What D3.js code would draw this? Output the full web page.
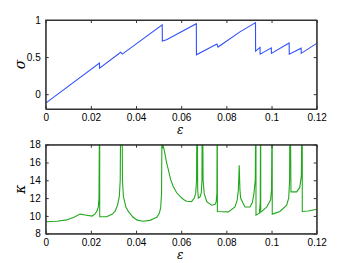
<!DOCTYPE html>
<html>
<head>
<meta charset="utf-8">
<script src="https://cdn.jsdelivr.net/npm/d3@7"></script>
<style>
body { margin: 0; background: #fff; }
text { font-family: "Liberation Sans", Arial, sans-serif; font-size: 10px; fill: #000; }
.lbl { font-family: "DejaVu Serif", "Liberation Serif", serif; font-style: italic; font-size: 14px; }
.xl { font-size: 12px; }
</style>
</head>
<body>
<script>
var width = 349;
var height = 263;

// x ticks shared by both panels
var xTicks = [0, 0.02, 0.04, 0.06, 0.08, 0.1, 0.12];
var sigmaTicks = [0, 0.5, 1];
var kappaTicks = [8, 10, 12, 14, 16, 18];

// sigma vs strain
var sigmaEps = [0, 0.0238, 0.02385, 0.0332, 0.0339, 0.0516, 0.05165, 0.0535, 0.0667, 0.06675,
    0.0758, 0.0763, 0.0860, 0.0929, 0.09295, 0.0949, 0.09495, 0.0999, 0.09995, 0.1078, 0.10785,
    0.1131, 0.11315, 0.12];
var sigmaVal = [-0.12, 0.42, 0.35, 0.565, 0.54, 0.935, 0.716, 0.735, 0.95, 0.53,
    0.675, 0.635, 0.84, 0.965, 0.58, 0.63, 0.54, 0.625, 0.55, 0.69, 0.54,
    0.62, 0.55, 0.685];

// kappa vs strain, poles go off the top and are clipped
var kappaEps = [0, 0.005, 0.0093, 0.0125, 0.0152, 0.0175, 0.0205, 0.0218, 0.0228, 0.0233, 0.0236,
    0.0239, 0.02392, 0.0270, 0.0295, 0.0307, 0.0318, 0.0326, 0.0330, 0.0333, 0.0337, 0.0340, 0.0344,
    0.0355, 0.0366, 0.0385, 0.0403, 0.0430, 0.0462, 0.0480, 0.0492, 0.0503, 0.0509, 0.0513, 0.0516,
    0.05175, 0.0521, 0.0528, 0.0535, 0.0543, 0.0553, 0.0565, 0.0580, 0.0595, 0.0610, 0.0624, 0.0646,
    0.0658, 0.0664, 0.0668, 0.0670,
    0.0671, 0.0673, 0.0676, 0.0683, 0.0689, 0.0692, 0.0693, 0.0694, 0.0697, 0.0702, 0.0713, 0.0735,
    0.0750, 0.0755, 0.0758, 0.0760, 0.07602, 0.0809, 0.0838, 0.0848, 0.0853, 0.0857, 0.0860, 0.0863,
    0.0882, 0.0905, 0.0915, 0.0922, 0.0928, 0.0931, 0.09312, 0.0946, 0.0950, 0.0952, 0.09522, 0.0979,
    0.0996, 0.1000, 0.1003, 0.10032, 0.1037, 0.1067, 0.1076, 0.1080, 0.1082, 0.10825, 0.1086, 0.1111,
    0.1125, 0.1132, 0.1136, 0.11362, 0.1163, 0.12];
var kappaVal = [9.35, 9.4, 9.55, 9.85, 10.2, 10.1, 9.98, 10.2, 10.6, 11.0, 12.0,
    25, 9.9, 9.9, 10.2, 10.5, 11.2, 12.2, 14, 25, 25, 14, 12.2,
    11.0, 10.5, 9.9, 9.55, 9.4, 9.5, 9.7, 9.85, 10.3, 10.9, 12.5, 25,
    17.6, 17.8, 17.0, 16.0, 15.2, 14.1, 13.3, 12.6, 12.2, 11.85, 11.65, 11.6,
    12.0, 12.5, 14, 25,
    25, 13, 12.0, 12.1, 12.6, 14, 25, 25, 14, 12.5, 11.6, 11.2,
    11.3, 11.6, 12.5, 25, 10.5, 10.45, 11.0, 11.8, 12.9, 15.7, 13, 12.0,
    11.0, 11.0, 11.5, 12.5, 14, 25, 10.1, 10.3, 11.5, 25, 10.4, 11.0,
    11.8, 13, 25, 10.2, 10.5, 11.2, 12, 14, 25, 25, 12.7, 12.7,
    13.2, 14.5, 25, 10.5, 10.55, 10.75];

var left = 45.7, right = 316.7;

var svg = d3.select("body").append("svg")
    .attr("width", width)
    .attr("height", height);

var x = d3.scaleLinear().domain([0, 0.12]).range([left, right]);

function drawPanel(name, top, bottom, yDomain, yTicks, yFmt, xs, ys, color, label) {
    var y = d3.scaleLinear().domain(yDomain).range([bottom, top]);

    svg.append("clipPath").attr("id", "clip-" + name)
        .append("rect")
        .attr("x", left).attr("y", top)
        .attr("width", right - left).attr("height", bottom - top);

    var line = d3.line()
        .x(function(d) { return x(d[0]); })
        .y(function(d) { return y(d[1]); });

    svg.append("path")
        .datum(xs.map(function(e, i) { return [e, ys[i]]; }))
        .attr("clip-path", "url(#clip-" + name + ")")
        .attr("fill", "none")
        .attr("stroke", color)
        .attr("stroke-width", 1.1)
        .attr("d", line);

    // MATLAB style box with inward ticks on all four sides
    var tk = 3;
    svg.append("g").attr("transform", "translate(0," + bottom + ")")
        .call(d3.axisBottom(x).tickValues(xTicks).tickSizeInner(-tk).tickSizeOuter(0).tickPadding(5)
            .tickFormat(function(d) { return d3.format("~g")(d); }));
    svg.append("g").attr("transform", "translate(0," + top + ")")
        .call(d3.axisTop(x).tickValues(xTicks).tickSizeInner(-tk).tickSizeOuter(0).tickFormat(""));
    svg.append("g").attr("transform", "translate(" + left + ",0)")
        .call(d3.axisLeft(y).tickValues(yTicks).tickSizeInner(-tk).tickSizeOuter(0).tickPadding(5)
            .tickFormat(yFmt));
    svg.append("g").attr("transform", "translate(" + right + ",0)")
        .call(d3.axisRight(y).tickValues(yTicks).tickSizeInner(-tk).tickSizeOuter(0).tickFormat(""));

    svg.selectAll(".domain").attr("stroke", "#333");
    svg.selectAll(".tick line").attr("stroke", "#333");
    svg.selectAll(".tick text").style("font-size", "10px");

    svg.append("rect")
        .attr("x", left).attr("y", top)
        .attr("width", right - left).attr("height", bottom - top)
        .attr("fill", "none").attr("stroke", "#333").attr("stroke-width", 1);

    svg.append("text").attr("class", "lbl")
        .attr("text-anchor", "middle")
        .attr("transform", "translate(" + 25 + "," + ((top + bottom) / 2) + "),rotate(-90)")
        .text(label);

    svg.append("text").attr("class", "lbl xl")
        .attr("text-anchor", "middle")
        .attr("x", (left + right) / 2 - 1).attr("y", bottom + 25)
        .text("\u03b5");
}

drawPanel("sigma", 20, 109, [-0.2, 1], sigmaTicks, d3.format("~g"),
    sigmaEps, sigmaVal, "#3050f8", "\u03c3");
drawPanel("kappa", 144.7, 233.7, [8, 18], kappaTicks, d3.format("d"),
    kappaEps, kappaVal, "#22a81c", "\u03ba");
</script>
</body>
</html>
